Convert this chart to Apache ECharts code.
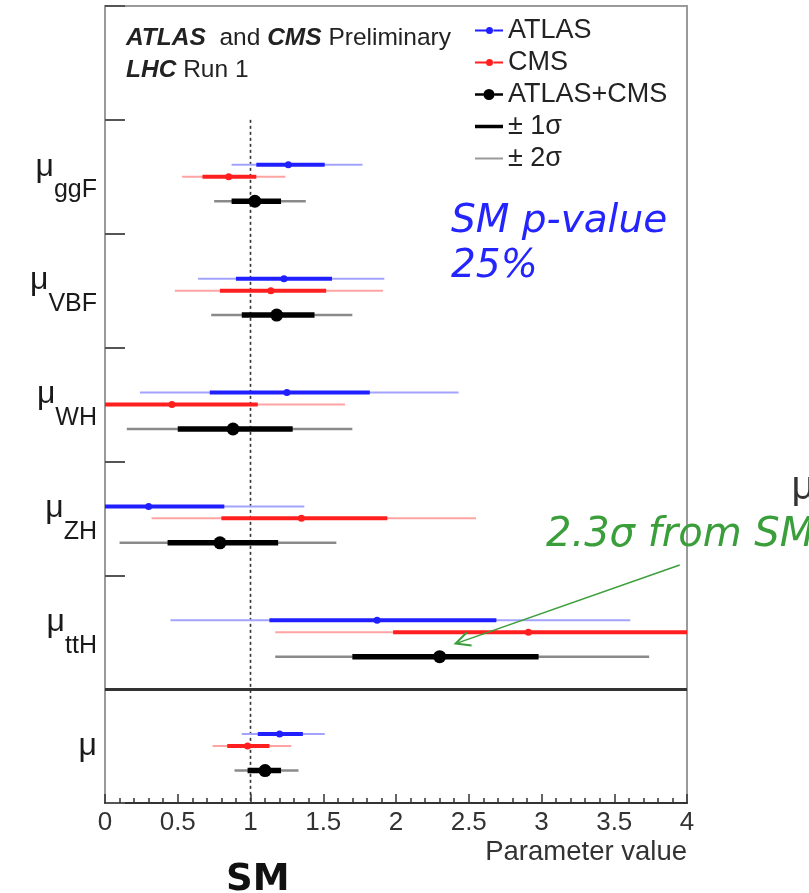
<!DOCTYPE html>
<html><head><meta charset="utf-8">
<script src="https://cdn.jsdelivr.net/npm/echarts@6/dist/echarts.min.js"></script>
<style>html,body{margin:0;padding:0;background:#fff}#c{width:809px;height:893px}</style>
</head><body><div id="c"></div>
<script>
// ---- data ----
const blockLabels = ['', 'ggF', 'VBF', 'WH', 'ZH', 'ttH', 'μ'];   // block 0 is the legend area
// rows: ggF, VBF, WH, ZH, ttH, μ ; each [best, 1σ low, 1σ high, 2σ low, 2σ high]
const atlas = [
  [1.26, 1.04, 1.51, 0.87, 1.77],
  [1.23, 0.90, 1.56, 0.64, 1.92],
  [1.25, 0.72, 1.82, 0.24, 2.43],
  [0.30, -0.15, 0.82, -0.55, 1.37],
  [1.87, 1.13, 2.69, 0.45, 3.61],
  [1.20, 1.05, 1.36, 0.94, 1.51]
];
const cms = [
  [0.85, 0.67, 1.04, 0.53, 1.24],
  [1.14, 0.79, 1.52, 0.48, 1.91],
  [0.46, -0.07, 1.05, -0.55, 1.65],
  [1.35, 0.80, 1.94, 0.32, 2.55],
  [2.91, 1.98, 4.05, 1.17, 5.00],
  [0.98, 0.84, 1.13, 0.74, 1.28]
];
const combined = [
  [1.03, 0.87, 1.21, 0.75, 1.38],
  [1.18, 0.94, 1.44, 0.73, 1.70],
  [0.88, 0.50, 1.29, 0.15, 1.70],
  [0.79, 0.43, 1.19, 0.10, 1.59],
  [2.30, 1.70, 2.98, 1.17, 3.74],
  [1.10, 0.98, 1.21, 0.89, 1.33]
];
const xTickLabels = ['0', '0.5', '1', '1.5', '2', '2.5', '3', '3.5', '4'];
const smValue = 1;
const legendNames = ['ATLAS', 'CMS', 'ATLAS+CMS', '± 1σ', '± 2σ'];
// annotation arrow: [x, y] in data units (tail, tip)
const arrowTail = [3.95, 4.91];
const arrowTip = [2.41, 5.60];

// ---- styles ----
const rowOffset = {atlas: 0.395, cms: 0.5, combined: 0.715};
const st = {
  atlas:    {c1: '#1f1fff', c2: '#a3a3ff', w1: 4, w2: 2, r: 3.5},
  cms:      {c1: '#ff1f1f', c2: '#ffa3a3', w1: 4, w2: 2, r: 3.5},
  combined: {c1: '#000000', c2: '#8a8a8a', w1: 5.5, w2: 2.5, r: 6.5}
};
const FONT = 'Liberation Sans';
const ICON_SMALL = 'path://M0,2.4H11.6V4.6H0Z M18.4,2.4H28V4.6H18.4Z M11,3.5A3.5,3.5 0 1 1 18,3.5A3.5,3.5 0 1 1 11,3.5Z';
const ICON_BIG = 'path://M0,4.8H8.6V7.2H0Z M19.4,4.8H28V7.2H19.4Z M8.5,6A5.5,5.5 0 1 1 19.5,6A5.5,5.5 0 1 1 8.5,6Z';
const ICON_1S = 'path://M0,0H28V3.5H0Z';
const ICON_2S = 'path://M0,0H28V2H0Z';

function toData(arr, off) {
  return arr.map((d, i) => [i + 1 + off, d[0], d[1], d[2], d[3], d[4]]);
}
function errSeries(name, arr, off, s, z) {
  return {
    type: 'custom', name: name, yAxisIndex: 0, xAxisIndex: 0, clip: true, z: z, silent: true,
    data: toData(arr, off),
    encode: {x: [1, 2, 3, 4, 5], y: 0},
    renderItem: function (params, api) {
      const y = api.value(0);
      const pc = api.coord([api.value(1), y]);
      const a1 = api.coord([api.value(2), y]), b1 = api.coord([api.value(3), y]);
      const a2 = api.coord([api.value(4), y]), b2 = api.coord([api.value(5), y]);
      return {type: 'group', children: [
        {type: 'line', shape: {x1: a2[0], y1: pc[1], x2: b2[0], y2: pc[1]}, style: {stroke: s.c2, lineWidth: s.w2}},
        {type: 'line', shape: {x1: a1[0], y1: pc[1], x2: b1[0], y2: pc[1]}, style: {stroke: s.c1, lineWidth: s.w1}},
        {type: 'circle', shape: {cx: pc[0], cy: pc[1], r: s.r}, style: {fill: s.c1}}
      ]};
    }
  };
}

const chart = echarts.init(document.getElementById('c'), null, {renderer: 'canvas'});
const option = {
  animation: false,
  backgroundColor: '#ffffff',
  title: {
    left: 121, top: 17,
    text: '{b|ATLAS}  and {b|CMS} Preliminary\n{b|LHC} Run 1',
    textStyle: {
      fontFamily: FONT, fontSize: 24.5, fontWeight: 'normal', color: '#222', lineHeight: 32,
      rich: {b: {fontFamily: FONT, fontSize: 24.5, fontWeight: 'bold', fontStyle: 'italic', color: '#222', lineHeight: 32}}
    }
  },
  legend: {
    orient: 'vertical', left: 470, top: 12, itemWidth: 28, itemHeight: 12, itemGap: 5,
    selectedMode: false, symbolKeepAspect: true,
    textStyle: {fontFamily: FONT, fontSize: 27, color: '#222', lineHeight: 26},
    data: [
      {name: legendNames[0], icon: ICON_SMALL},
      {name: legendNames[1], icon: ICON_SMALL},
      {name: legendNames[2], icon: ICON_BIG},
      {name: legendNames[3], icon: ICON_1S},
      {name: legendNames[4], icon: ICON_2S}
    ]
  },
  grid: {left: 105, right: 122, top: 6, bottom: 90, show: true, borderColor: '#9a9a9a', borderWidth: 2, containLabel: false},
  xAxis: {
    type: 'value', min: 0, max: 4, interval: 0.5,
    axisLine: {onZero: false, lineStyle: {color: '#333', width: 2}},
    axisTick: {inside: true, length: 9, lineStyle: {color: '#333', width: 1.5}},
    minorTick: {show: true, splitNumber: 5, length: 5, lineStyle: {color: '#333', width: 1.5}},
    axisLabel: {fontFamily: FONT, fontSize: 26, color: '#333', margin: 7,
      formatter: v => xTickLabels[Math.round(v / 0.5)]},
    splitLine: {show: false}, minorSplitLine: {show: false}
  },
  yAxis: [
    {
      type: 'value', min: 0, max: 7, interval: 1, inverse: true,
      axisLine: {show: true, onZero: false, lineStyle: {color: '#9a9a9a', width: 2}},
      axisTick: {show: true, inside: true, length: 20, lineStyle: {color: '#555', width: 2}},
      axisLabel: {show: false}, splitLine: {show: false}
    },
    {
      type: 'category', data: blockLabels, inverse: true, position: 'left', boundaryGap: true,
      axisLine: {show: false}, axisTick: {show: false}, splitLine: {show: false},
      axisLabel: {
        interval: 0, margin: 8, lineHeight: 52, color: '#222',
        formatter: function (v) {
          if (!v) return '';
          if (v === 'μ') return '{solo|μ}';
          return '{mu|μ}{sub|' + v + '}';
        },
        rich: {
          mu: {fontFamily: FONT, fontSize: 32, color: '#1a1a1a', verticalAlign: 'top'},
          sub: {fontFamily: FONT, fontSize: 25, color: '#1a1a1a', verticalAlign: 'bottom'},
          solo: {fontFamily: FONT, fontSize: 32, color: '#1a1a1a', verticalAlign: 'middle'}
        }
      }
    }
  ],
  graphic: [
    {type: 'text', left: 451, top: 199, z: 10,
      style: {text: 'SM p-value\n25%', font: 'italic 39px "DejaVu Sans"', fill: '#2424ff', lineHeight: 45}},
    {type: 'text', left: 546, top: 516, z: 10,
      style: {text: '2.3σ from SM', font: 'italic 40px "DejaVu Sans"', fill: '#3a9e3a'}},
    {type: 'text', left: 791, top: 469, z: 10,
      style: {text: 'μ', font: '38px "DejaVu Sans"', fill: '#333'}},
    {type: 'text', right: 122, top: 838, z: 10,
      style: {text: 'Parameter value', font: '27.5px "Liberation Sans"', fill: '#333'}},
    {type: 'text', left: 226, top: 862, z: 10,
      style: {text: 'SM', font: 'bold 37px "DejaVu Sans"', fill: '#111'}}
  ],
  series: [
    {
      type: 'line', name: 'SM', yAxisIndex: 0, silent: true, z: 1,
      data: [[smValue, 1], [smValue, 7]], symbol: 'none',
      lineStyle: {color: '#333', width: 1.6, type: [3, 3]},
      markLine: {
        silent: true, symbol: ['none', 'none'], label: {show: false},
        lineStyle: {color: '#333', width: 3, type: 'solid'},
        data: [{yAxis: 6}]
      }
    },
    errSeries('ATLAS data', atlas, rowOffset.atlas, st.atlas, 3),
    errSeries('CMS data', cms, rowOffset.cms, st.cms, 3),
    errSeries('ATLAS+CMS data', combined, rowOffset.combined, st.combined, 3),
    {
      type: 'custom', name: 'arrow', yAxisIndex: 0, silent: true, z: 5, clip: false,
      data: [[arrowTail[0], arrowTail[1], arrowTip[0], arrowTip[1]]],
      encode: {x: [0, 2], y: [1, 3]},
      renderItem: function (params, api) {
        const p0 = api.coord([api.value(0), api.value(1)]);
        const p1 = api.coord([api.value(2), api.value(3)]);
        const ang = Math.atan2(p0[1] - p1[1], p0[0] - p1[0]);
        const L = 16, da = 0.45;
        const h1 = [p1[0] + L * Math.cos(ang + da), p1[1] + L * Math.sin(ang + da)];
        const h2 = [p1[0] + L * Math.cos(ang - da), p1[1] + L * Math.sin(ang - da)];
        const s = {stroke: '#3a9e3a', lineWidth: 1.5};
        return {type: 'group', children: [
          {type: 'line', shape: {x1: p0[0], y1: p0[1], x2: p1[0], y2: p1[1]}, style: s},
          {type: 'polyline', shape: {points: [h1, p1, h2]}, style: {stroke: '#3a9e3a', lineWidth: 2, fill: null}}
        ]};
      }
    },
    {type: 'line', name: 'ATLAS', data: [], symbol: 'circle', symbolSize: 8,
      itemStyle: {color: st.atlas.c1}, lineStyle: {color: st.atlas.c1, width: 3}},
    {type: 'line', name: 'CMS', data: [], symbol: 'circle', symbolSize: 8,
      itemStyle: {color: st.cms.c1}, lineStyle: {color: st.cms.c1, width: 3}},
    {type: 'line', name: 'ATLAS+CMS', data: [], symbol: 'circle', symbolSize: 14,
      itemStyle: {color: '#000'}, lineStyle: {color: '#000', width: 3}},
    {type: 'line', name: '± 1σ', data: [], symbol: 'none',
      itemStyle: {color: '#000'}, lineStyle: {color: '#000', width: 4}},
    {type: 'line', name: '± 2σ', data: [], symbol: 'none',
      itemStyle: {color: '#9a9a9a'}, lineStyle: {color: '#9a9a9a', width: 2}}
  ]
};
chart.setOption(option);
</script></body></html>
